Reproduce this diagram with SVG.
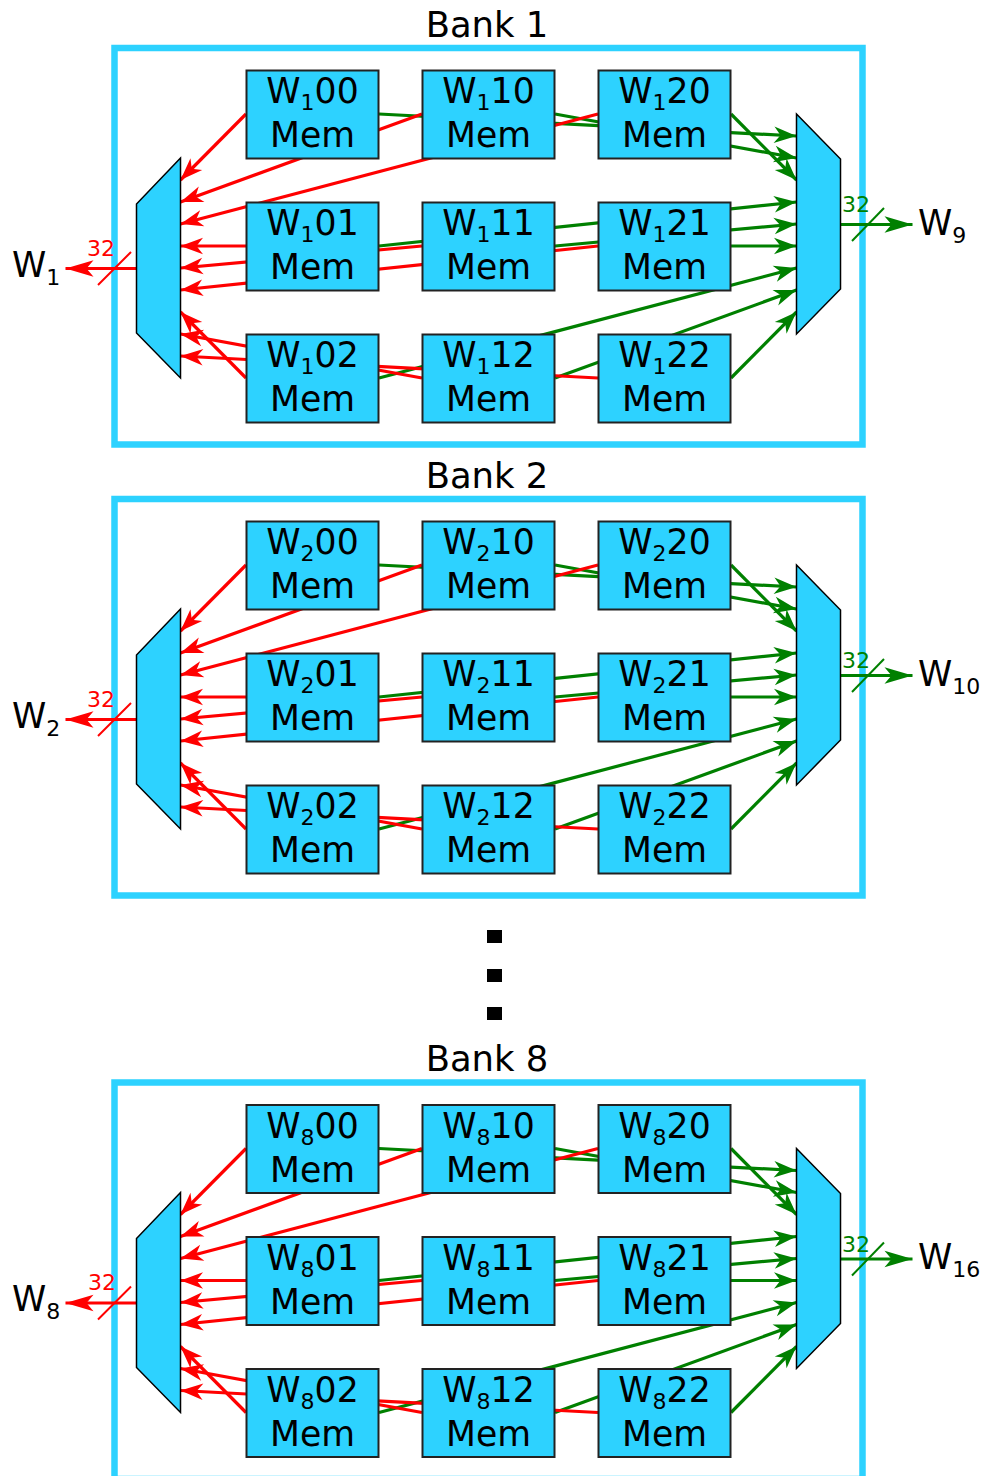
<svg xmlns="http://www.w3.org/2000/svg" width="985" height="1476" viewBox="0 0 985 1476">
<style>
text{font-family:"DejaVu Sans",sans-serif;fill:#000}
.t{font-size:34.67px;text-anchor:middle}
.h{font-size:35.4px;text-anchor:middle}
.l{font-size:34.67px}
.s{font-size:22px}
.frame{fill:none;stroke:#2dd2ff;stroke-width:6.5}
.node{fill:#2dd2ff;stroke:#222;stroke-width:2}
.mux{fill:#2dd2ff;stroke:#000;stroke-width:1.5}
.r{stroke:#ff0000;stroke-width:3.2;fill:none;marker-end:url(#ar)}
.g{stroke:#008000;stroke-width:3.2;fill:none;marker-end:url(#ag)}
.ro{stroke:#ff0000;stroke-width:3.2;fill:none;marker-end:url(#aro)}
.go{stroke:#008000;stroke-width:3.2;fill:none;marker-end:url(#ago)}
.rs{stroke:#ff0000;stroke-width:2;fill:none}
.gs{stroke:#008000;stroke-width:2;fill:none}
text.rt{fill:#ff0000}
text.gt{fill:#008000}
</style>
<defs>
<marker id="ar" markerUnits="userSpaceOnUse" markerWidth="28" markerHeight="22" refX="24" refY="11" orient="auto"><path d="M24 11L1.500 2.700L8 11L1.500 19.300Z" fill="#ff0000"/></marker>
<marker id="ag" markerUnits="userSpaceOnUse" markerWidth="28" markerHeight="22" refX="24" refY="11" orient="auto"><path d="M24 11L1.500 2.700L8 11L1.500 19.300Z" fill="#008000"/></marker>
<marker id="aro" markerUnits="userSpaceOnUse" markerWidth="32" markerHeight="22" refX="30" refY="11" orient="auto"><path d="M30 11L2 2.700L9 11L2 19.300Z" fill="#ff0000"/></marker>
<marker id="ago" markerUnits="userSpaceOnUse" markerWidth="32" markerHeight="22" refX="30" refY="11" orient="auto"><path d="M30 11L2 2.700L9 11L2 19.300Z" fill="#008000"/></marker>
</defs>
<g id="dots"><rect x="487" y="930" width="15" height="13"/><rect x="487" y="969" width="15" height="13"/><rect x="487" y="1007" width="15" height="13"/></g>

<g id="bank1">
<text class="h" x="487" y="36.500">Bank 1</text>
<rect class="frame" x="114.500" y="48" width="748" height="396.500"/>
<g id="connectors1">
<path class="g" d="M731 114L796.500 180"/><path class="g" d="M555 114L796.500 158"/><path class="g" d="M379 114L796.500 136"/>
<path class="g" d="M379 246L796.500 202"/><path class="g" d="M555 246L796.500 224"/><path class="g" d="M731 246H796.500"/>
<path class="g" d="M379 378L796.500 268"/><path class="g" d="M555 378L796.500 290"/><path class="g" d="M731 378L796.500 312"/>
<path class="r" d="M246 114L180.500 180"/><path class="r" d="M422 114L180.500 202"/><path class="r" d="M598 114L180.500 224"/>
<path class="r" d="M246 246H180.500"/><path class="r" d="M422 246L180.500 268"/><path class="r" d="M598 246L180.500 290"/>
<path class="r" d="M246 378L180.500 312"/><path class="r" d="M422 378L180.500 334"/><path class="r" d="M598 378L180.500 356"/>
<path class="ro" d="M136.500 268.500H65.500"/><path class="go" d="M840.500 224.500H912.500"/>
<path class="rs" d="M131 252L98 285"/><path class="gs" d="M884 208L852 241"/>
</g>
<g id="n1-00"><rect class="node" x="246.500" y="70.500" width="132" height="88"/><text class="t" x="312.500" y="103">W<tspan class="s" dy="7">1</tspan><tspan dy="-7">00</tspan></text><text class="t" x="312.500" y="147">Mem</text></g>
<g id="n1-10"><rect class="node" x="422.500" y="70.500" width="132" height="88"/><text class="t" x="488.500" y="103">W<tspan class="s" dy="7">1</tspan><tspan dy="-7">10</tspan></text><text class="t" x="488.500" y="147">Mem</text></g>
<g id="n1-20"><rect class="node" x="598.500" y="70.500" width="132" height="88"/><text class="t" x="664.500" y="103">W<tspan class="s" dy="7">1</tspan><tspan dy="-7">20</tspan></text><text class="t" x="664.500" y="147">Mem</text></g>
<g id="n1-01"><rect class="node" x="246.500" y="202.500" width="132" height="88"/><text class="t" x="312.500" y="235">W<tspan class="s" dy="7">1</tspan><tspan dy="-7">01</tspan></text><text class="t" x="312.500" y="279">Mem</text></g>
<g id="n1-11"><rect class="node" x="422.500" y="202.500" width="132" height="88"/><text class="t" x="488.500" y="235">W<tspan class="s" dy="7">1</tspan><tspan dy="-7">11</tspan></text><text class="t" x="488.500" y="279">Mem</text></g>
<g id="n1-21"><rect class="node" x="598.500" y="202.500" width="132" height="88"/><text class="t" x="664.500" y="235">W<tspan class="s" dy="7">1</tspan><tspan dy="-7">21</tspan></text><text class="t" x="664.500" y="279">Mem</text></g>
<g id="n1-02"><rect class="node" x="246.500" y="334.500" width="132" height="88"/><text class="t" x="312.500" y="367">W<tspan class="s" dy="7">1</tspan><tspan dy="-7">02</tspan></text><text class="t" x="312.500" y="411">Mem</text></g>
<g id="n1-12"><rect class="node" x="422.500" y="334.500" width="132" height="88"/><text class="t" x="488.500" y="367">W<tspan class="s" dy="7">1</tspan><tspan dy="-7">12</tspan></text><text class="t" x="488.500" y="411">Mem</text></g>
<g id="n1-22"><rect class="node" x="598.500" y="334.500" width="132" height="88"/><text class="t" x="664.500" y="367">W<tspan class="s" dy="7">1</tspan><tspan dy="-7">22</tspan></text><text class="t" x="664.500" y="411">Mem</text></g>
<polygon id="mux1-l" class="mux" points="180.500,158 136.500,204 136.500,333 180.500,378"/>
<polygon id="mux1-r" class="mux" points="796.500,114 840.500,159 840.500,289 796.500,334"/>
<text class="s rt" x="87" y="256">32</text>
<text class="s gt" x="842" y="212">32</text>
<text class="l" x="12" y="276.500">W<tspan class="s" dy="8">1</tspan></text>
<text class="l" x="918" y="234.500">W<tspan class="s" dy="8">9</tspan></text>
</g>

<g id="bank2" transform="translate(0 451)">
<text class="h" x="487" y="36.500">Bank 2</text>
<rect class="frame" x="114.500" y="48" width="748" height="396.500"/>
<g id="connectors2">
<path class="g" d="M731 114L796.500 180"/><path class="g" d="M555 114L796.500 158"/><path class="g" d="M379 114L796.500 136"/>
<path class="g" d="M379 246L796.500 202"/><path class="g" d="M555 246L796.500 224"/><path class="g" d="M731 246H796.500"/>
<path class="g" d="M379 378L796.500 268"/><path class="g" d="M555 378L796.500 290"/><path class="g" d="M731 378L796.500 312"/>
<path class="r" d="M246 114L180.500 180"/><path class="r" d="M422 114L180.500 202"/><path class="r" d="M598 114L180.500 224"/>
<path class="r" d="M246 246H180.500"/><path class="r" d="M422 246L180.500 268"/><path class="r" d="M598 246L180.500 290"/>
<path class="r" d="M246 378L180.500 312"/><path class="r" d="M422 378L180.500 334"/><path class="r" d="M598 378L180.500 356"/>
<path class="ro" d="M136.500 268.500H65.500"/><path class="go" d="M840.500 224.500H912.500"/>
<path class="rs" d="M131 252L98 285"/><path class="gs" d="M884 208L852 241"/>
</g>
<g id="n2-00"><rect class="node" x="246.500" y="70.500" width="132" height="88"/><text class="t" x="312.500" y="103">W<tspan class="s" dy="7">2</tspan><tspan dy="-7">00</tspan></text><text class="t" x="312.500" y="147">Mem</text></g>
<g id="n2-10"><rect class="node" x="422.500" y="70.500" width="132" height="88"/><text class="t" x="488.500" y="103">W<tspan class="s" dy="7">2</tspan><tspan dy="-7">10</tspan></text><text class="t" x="488.500" y="147">Mem</text></g>
<g id="n2-20"><rect class="node" x="598.500" y="70.500" width="132" height="88"/><text class="t" x="664.500" y="103">W<tspan class="s" dy="7">2</tspan><tspan dy="-7">20</tspan></text><text class="t" x="664.500" y="147">Mem</text></g>
<g id="n2-01"><rect class="node" x="246.500" y="202.500" width="132" height="88"/><text class="t" x="312.500" y="235">W<tspan class="s" dy="7">2</tspan><tspan dy="-7">01</tspan></text><text class="t" x="312.500" y="279">Mem</text></g>
<g id="n2-11"><rect class="node" x="422.500" y="202.500" width="132" height="88"/><text class="t" x="488.500" y="235">W<tspan class="s" dy="7">2</tspan><tspan dy="-7">11</tspan></text><text class="t" x="488.500" y="279">Mem</text></g>
<g id="n2-21"><rect class="node" x="598.500" y="202.500" width="132" height="88"/><text class="t" x="664.500" y="235">W<tspan class="s" dy="7">2</tspan><tspan dy="-7">21</tspan></text><text class="t" x="664.500" y="279">Mem</text></g>
<g id="n2-02"><rect class="node" x="246.500" y="334.500" width="132" height="88"/><text class="t" x="312.500" y="367">W<tspan class="s" dy="7">2</tspan><tspan dy="-7">02</tspan></text><text class="t" x="312.500" y="411">Mem</text></g>
<g id="n2-12"><rect class="node" x="422.500" y="334.500" width="132" height="88"/><text class="t" x="488.500" y="367">W<tspan class="s" dy="7">2</tspan><tspan dy="-7">12</tspan></text><text class="t" x="488.500" y="411">Mem</text></g>
<g id="n2-22"><rect class="node" x="598.500" y="334.500" width="132" height="88"/><text class="t" x="664.500" y="367">W<tspan class="s" dy="7">2</tspan><tspan dy="-7">22</tspan></text><text class="t" x="664.500" y="411">Mem</text></g>
<polygon id="mux2-l" class="mux" points="180.500,158 136.500,204 136.500,333 180.500,378"/>
<polygon id="mux2-r" class="mux" points="796.500,114 840.500,159 840.500,289 796.500,334"/>
<text class="s rt" x="87" y="256">32</text>
<text class="s gt" x="842" y="217">32</text>
<text class="l" x="12" y="276.500">W<tspan class="s" dy="8">2</tspan></text>
<text class="l" x="918" y="234.500">W<tspan class="s" dy="8">10</tspan></text>
</g>

<g id="bank8" transform="translate(0 1034.500)">
<text class="h" x="487" y="36.500">Bank 8</text>
<rect class="frame" x="114.500" y="48" width="748" height="396.500"/>
<g id="connectors8">
<path class="g" d="M731 114L796.500 180"/><path class="g" d="M555 114L796.500 158"/><path class="g" d="M379 114L796.500 136"/>
<path class="g" d="M379 246L796.500 202"/><path class="g" d="M555 246L796.500 224"/><path class="g" d="M731 246H796.500"/>
<path class="g" d="M379 378L796.500 268"/><path class="g" d="M555 378L796.500 290"/><path class="g" d="M731 378L796.500 312"/>
<path class="r" d="M246 114L180.500 180"/><path class="r" d="M422 114L180.500 202"/><path class="r" d="M598 114L180.500 224"/>
<path class="r" d="M246 246H180.500"/><path class="r" d="M422 246L180.500 268"/><path class="r" d="M598 246L180.500 290"/>
<path class="r" d="M246 378L180.500 312"/><path class="r" d="M422 378L180.500 334"/><path class="r" d="M598 378L180.500 356"/>
<path class="ro" d="M136.500 268.500H65.500"/><path class="go" d="M840.500 224.500H912.500"/>
<path class="rs" d="M131 252L98 285"/><path class="gs" d="M884 208L852 241"/>
</g>
<g id="n8-00"><rect class="node" x="246.500" y="70.500" width="132" height="88"/><text class="t" x="312.500" y="103">W<tspan class="s" dy="7">8</tspan><tspan dy="-7">00</tspan></text><text class="t" x="312.500" y="147">Mem</text></g>
<g id="n8-10"><rect class="node" x="422.500" y="70.500" width="132" height="88"/><text class="t" x="488.500" y="103">W<tspan class="s" dy="7">8</tspan><tspan dy="-7">10</tspan></text><text class="t" x="488.500" y="147">Mem</text></g>
<g id="n8-20"><rect class="node" x="598.500" y="70.500" width="132" height="88"/><text class="t" x="664.500" y="103">W<tspan class="s" dy="7">8</tspan><tspan dy="-7">20</tspan></text><text class="t" x="664.500" y="147">Mem</text></g>
<g id="n8-01"><rect class="node" x="246.500" y="202.500" width="132" height="88"/><text class="t" x="312.500" y="235">W<tspan class="s" dy="7">8</tspan><tspan dy="-7">01</tspan></text><text class="t" x="312.500" y="279">Mem</text></g>
<g id="n8-11"><rect class="node" x="422.500" y="202.500" width="132" height="88"/><text class="t" x="488.500" y="235">W<tspan class="s" dy="7">8</tspan><tspan dy="-7">11</tspan></text><text class="t" x="488.500" y="279">Mem</text></g>
<g id="n8-21"><rect class="node" x="598.500" y="202.500" width="132" height="88"/><text class="t" x="664.500" y="235">W<tspan class="s" dy="7">8</tspan><tspan dy="-7">21</tspan></text><text class="t" x="664.500" y="279">Mem</text></g>
<g id="n8-02"><rect class="node" x="246.500" y="334.500" width="132" height="88"/><text class="t" x="312.500" y="367">W<tspan class="s" dy="7">8</tspan><tspan dy="-7">02</tspan></text><text class="t" x="312.500" y="411">Mem</text></g>
<g id="n8-12"><rect class="node" x="422.500" y="334.500" width="132" height="88"/><text class="t" x="488.500" y="367">W<tspan class="s" dy="7">8</tspan><tspan dy="-7">12</tspan></text><text class="t" x="488.500" y="411">Mem</text></g>
<g id="n8-22"><rect class="node" x="598.500" y="334.500" width="132" height="88"/><text class="t" x="664.500" y="367">W<tspan class="s" dy="7">8</tspan><tspan dy="-7">22</tspan></text><text class="t" x="664.500" y="411">Mem</text></g>
<polygon id="mux8-l" class="mux" points="180.500,158 136.500,204 136.500,333 180.500,378"/>
<polygon id="mux8-r" class="mux" points="796.500,114 840.500,159 840.500,289 796.500,334"/>
<text class="s rt" x="88" y="255.500">32</text>
<text class="s gt" x="842" y="217">32</text>
<text class="l" x="12" y="276.500">W<tspan class="s" dy="8">8</tspan></text>
<text class="l" x="918" y="234.500">W<tspan class="s" dy="8">16</tspan></text>
</g>
</svg>
